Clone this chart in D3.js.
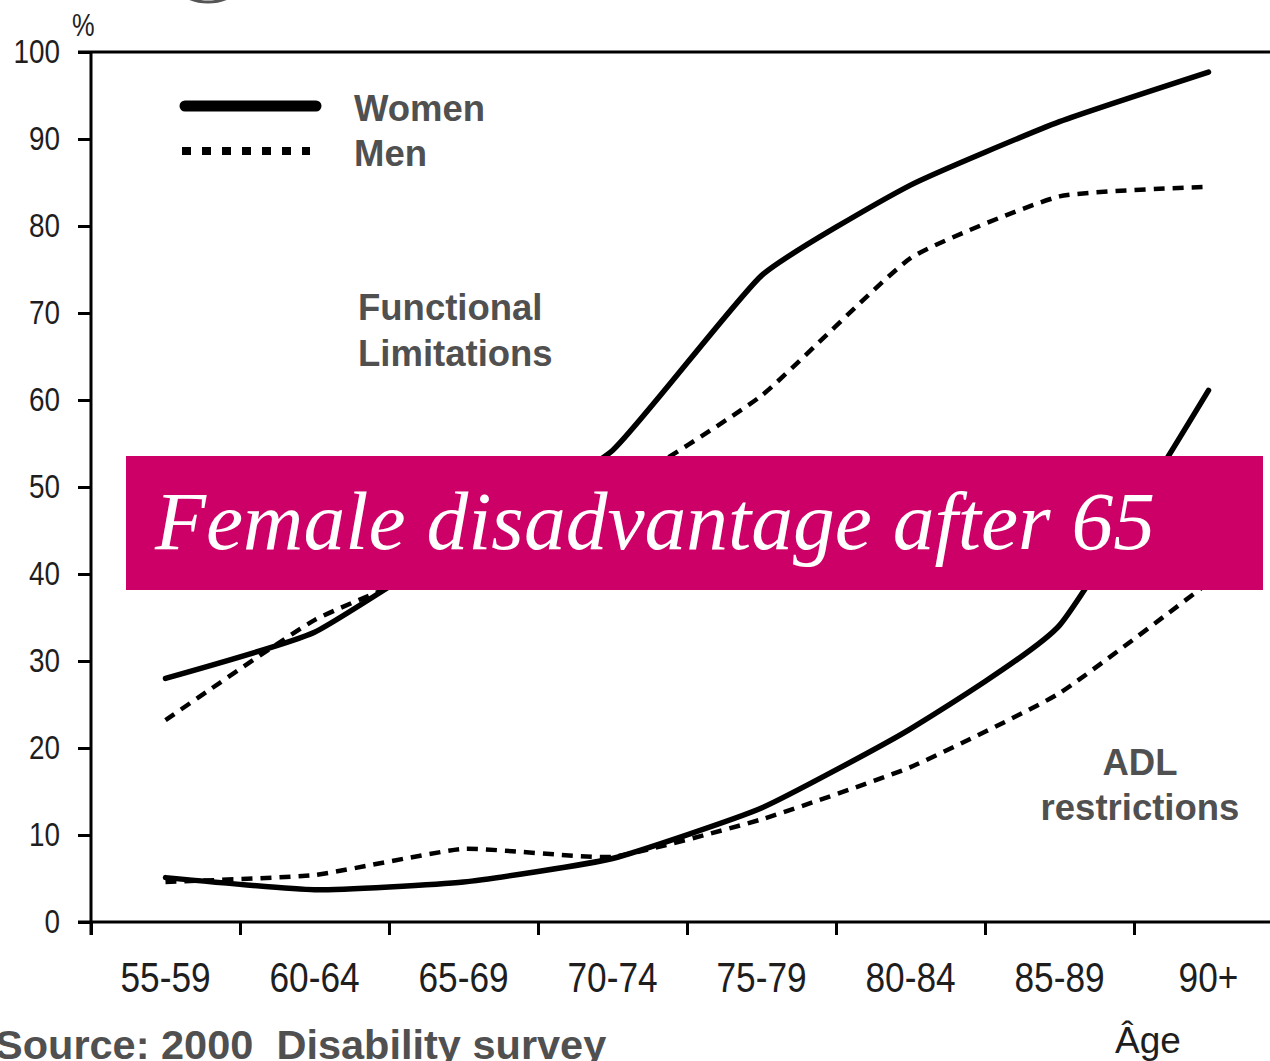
<!DOCTYPE html>
<html>
<head>
<meta charset="utf-8">
<script src="https://cdn.jsdelivr.net/npm/d3@7"></script>
<style>
  html, body { margin: 0; padding: 0; background: #fff; }
  svg { display: block; }
</style>
</head>
<body>
<svg id="chart" width="1270" height="1061"></svg>
<script>
// ---------- data ----------
const categories = ["55-59", "60-64", "65-69", "70-74", "75-79", "80-84", "85-89", "90+"];
const womenFunctional = [28.0, 33.3, 44.0, 54.2, 74.3, 84.7, 92.0, 97.7];
const menFunctional   = [23.2, 34.7, 42.0, 49.5, 60.5, 76.3, 83.4, 84.5];
const womenADL        = [5.1, 3.7, 4.6, 7.3, 13.1, 22.2, 34.1, 61.1];
const menADL          = [4.6, 5.4, 8.4, 7.5, 11.8, 17.8, 26.3, 39.0];
const yTickValues = [0, 10, 20, 30, 40, 50, 60, 70, 80, 90, 100];
const legendLabels = ["Women", "Men"];
const bannerText = "Female disadvantage after 65";
const sourceText = "Source: 2000  Disability survey";

// ---------- layout ----------
const svg = d3.select("#chart");
const plot = { left: 91, right: 1283, top: 52, bottom: 922 };
const sans = "'Liberation Sans', Arial, Helvetica, sans-serif";
const labelGray = "#505050";
const squeeze = 0.82; // emulate a narrow sans face

const x = d3.scaleBand().domain(categories).range([plot.left, plot.right]).padding(0);
const xBound = d3.scaleLinear().domain([0, categories.length]).range([plot.left, plot.right]);
const y = d3.scaleLinear().domain([0, 100]).range([plot.bottom, plot.top]);
const cx = c => x(c) + x.bandwidth() / 2;

// decorative ellipse fragment at top
svg.append("ellipse")
  .attr("cx", 208).attr("cy", -34).attr("rx", 42).attr("ry", 36)
  .attr("fill", "none").attr("stroke", "#555").attr("stroke-width", 3);

// frame lines
svg.append("line").attr("x1", 78).attr("x2", 1270).attr("y1", y(100)).attr("y2", y(100))
  .attr("stroke", "#000").attr("stroke-width", 3);
svg.append("line").attr("x1", 78).attr("x2", 1270).attr("y1", y(0)).attr("y2", y(0))
  .attr("stroke", "#000").attr("stroke-width", 3);
svg.append("line").attr("x1", plot.left).attr("x2", plot.left).attr("y1", y(100)).attr("y2", y(0) + 13)
  .attr("stroke", "#000").attr("stroke-width", 3);

// y axis
const yAxis = svg.append("g").attr("transform", `translate(${plot.left},0)`)
  .call(d3.axisLeft(y).tickValues(yTickValues).tickSize(13).tickPadding(18));
yAxis.select(".domain").remove();
yAxis.selectAll(".tick line").attr("stroke", "#000").attr("stroke-width", 3);
yAxis.selectAll(".tick text")
  .attr("font-family", sans).attr("font-size", 34).attr("fill", "#1e1e1e")
  .attr("x", -31 / squeeze)
  .attr("transform", `scale(${squeeze},1)`);

// x axis: boundary ticks
const xTickAxis = svg.append("g").attr("transform", `translate(0,${plot.bottom})`)
  .call(d3.axisBottom(xBound).tickValues(d3.range(0, categories.length)).tickSize(13).tickFormat(""));
xTickAxis.select(".domain").remove();
xTickAxis.selectAll(".tick line").attr("stroke", "#000").attr("stroke-width", 3);

// x axis: category labels
const xLabelAxis = svg.append("g").attr("transform", `translate(0,${plot.bottom})`)
  .call(d3.axisBottom(x).tickSize(0).tickPadding(39));
xLabelAxis.select(".domain").remove();
xLabelAxis.selectAll(".tick text")
  .attr("font-family", sans).attr("font-size", 43).attr("fill", "#1e1e1e")
  .attr("transform", `scale(${squeeze},1)`);

// axis titles
svg.append("text").attr("x", 72 / squeeze).attr("y", 36).text("%")
  .attr("transform", `scale(${squeeze},1)`)
  .attr("font-family", sans).attr("font-size", 31).attr("fill", "#222");
svg.append("text").attr("x", 1115).attr("y", 1053).text("Âge")
  .attr("font-family", sans).attr("font-size", 37).attr("fill", "#1e1e1e");

// lines
const line = d3.line().x((d, i) => cx(categories[i])).y(d => y(d)).curve(d3.curveCardinal.tension(0.55));
const solid = { stroke: "#000", width: 5.5, dash: null };
const dotted = { stroke: "#000", width: 4.5, dash: "11,8" };
const seriesList = [
  { values: menFunctional, style: dotted },
  { values: menADL, style: dotted },
  { values: womenFunctional, style: solid },
  { values: womenADL, style: solid }
];
seriesList.forEach(s => {
  svg.append("path").datum(s.values)
    .attr("d", line)
    .attr("fill", "none")
    .attr("stroke", s.style.stroke)
    .attr("stroke-width", s.style.width)
    .attr("stroke-dasharray", s.style.dash)
    .attr("stroke-linecap", s.style.dash ? "butt" : "round")
    .attr("stroke-linejoin", "round");
});

// legend
svg.append("line").attr("x1", 185).attr("x2", 316).attr("y1", 106).attr("y2", 106)
  .attr("stroke", "#000").attr("stroke-width", 11).attr("stroke-linecap", "round");
svg.append("line").attr("x1", 182).attr("x2", 310).attr("y1", 151).attr("y2", 151)
  .attr("stroke", "#000").attr("stroke-width", 8).attr("stroke-dasharray", "9,11");
legendLabels.forEach((t, i) => {
  svg.append("text").attr("x", 354).attr("y", 121 + i * 45).text(t)
    .attr("font-family", sans).attr("font-weight", "bold").attr("font-size", 36.5).attr("fill", labelGray);
});

// annotations
const fl = svg.append("text").attr("font-family", sans).attr("font-weight", "bold")
  .attr("font-size", 36.5).attr("fill", labelGray);
fl.append("tspan").attr("x", 358).attr("y", 320).text("Functional");
fl.append("tspan").attr("x", 358).attr("y", 366).text("Limitations");

const adl = svg.append("text").attr("font-family", sans).attr("font-weight", "bold")
  .attr("font-size", 36.5).attr("fill", labelGray).attr("text-anchor", "middle");
adl.append("tspan").attr("x", 1140).attr("y", 775).text("ADL");
adl.append("tspan").attr("x", 1140).attr("y", 820).text("restrictions");

// banner
svg.append("rect").attr("x", 126).attr("y", 456).attr("width", 1137).attr("height", 134)
  .attr("fill", "#CC0066");
const bt = svg.append("text").attr("x", 155).attr("y", 549).text(bannerText)
  .attr("font-family", "'Liberation Serif', 'DejaVu Serif', serif")
  .attr("font-style", "italic").attr("font-size", 82).attr("fill", "#fff");
const bw = bt.node().getComputedTextLength();
if (Math.abs(bw - 1000) > 10) {
  bt.attr("textLength", 1000).attr("lengthAdjust", "spacingAndGlyphs");
}

// source
svg.append("text").attr("x", -5).attr("y", 1059).text(sourceText)
  .attr("xml:space", "preserve").style("white-space", "pre")
  .attr("font-family", sans).attr("font-weight", "bold").attr("font-size", 41.5).attr("fill", labelGray);
</script>
</body>
</html>
